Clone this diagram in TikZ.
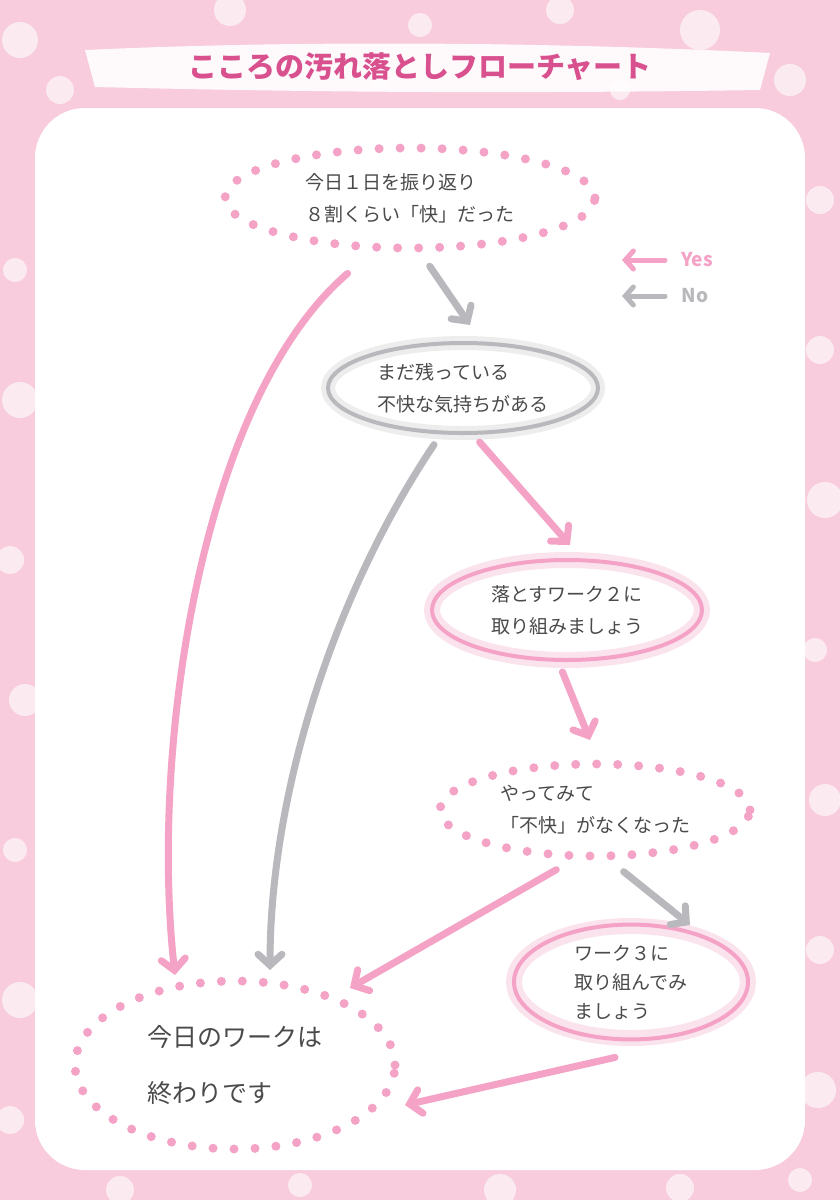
\documentclass[tikz,border=0pt]{standalone}
\usepackage{fontspec}
\setmainfont{Noto Sans CJK JP}
\usetikzlibrary{shapes.geometric,arrows.meta}
\definecolor{bgpink}{HTML}{F8CCDC}
\definecolor{apink}{HTML}{F4A3C6}
\definecolor{agray}{HTML}{B9B9BD}
\definecolor{tpink}{HTML}{D9508F}
\definecolor{txt}{HTML}{4A4A4A}
\tikzset{
  every node/.style={font=\fontsize{19}{32}\selectfont, text=txt, align=left},
  dotel/.style={ellipse, draw=apink, line width=9pt, line cap=round, dash pattern=on 0pt off 21pt},
  glowp/.style={ellipse, draw=apink, line width=4pt},
  glowg/.style={ellipse, draw=agray, line width=4pt},
  arr/.style={line width=7pt, line cap=round, -{Straight Barb[length=11pt,width=24pt,line cap=round]}},
  yes/.style={arr, draw=apink},
  no/.style={arr, draw=agray},
}
\begin{document}
\begin{tikzpicture}[x=1pt,y=-1pt]
\useasboundingbox (0,0) rectangle (840,1200);
\fill[bgpink] (0,0) rectangle (840,1200);
\foreach \x/\y/\r in {20/40/18,60/90/14,230/10/16,420/25/12,560/10/14,700/30/20,790/80/16,820/200/14,15/270/12,20/400/18,10/560/14,25/700/16,15/850/12,20/1000/18,10/1120/14,820/350/14,825/500/18,815/650/12,825/800/16,820/950/14,818/1090/18,120/1190/14,300/1185/12,500/1190/16,680/1188/14,800/1180/12,380/80/8,620/90/10}
  \fill[white,opacity=.6] (\x,\y) circle (\r);
% title brush
\fill[white,opacity=.9] (85,50) .. controls (300,40) and (550,42) .. (770,53) -- (760,90) .. controls (500,94) and (300,92) .. (95,87) -- cycle;
\node (title) at (420,67) {\fontsize{29}{32}\selectfont\bfseries\color{tpink}こころの汚れ落としフローチャート};
% panel
\fill[white] (35,108) [rounded corners=50pt] rectangle (805,1170);
% nodes
\node[dotel, minimum width=370pt, minimum height=100pt] (n1) at (410,198) {今日１日を振り返り\\ ８割くらい「快」だった};
\draw[agray,opacity=.25,line width=14pt] (463,388) ellipse (135 and 45);
\node[glowg, minimum width=270pt, minimum height=90pt] (n2) at (463,388) {まだ残っている\\不快な気持ちがある};
\draw[apink,opacity=.3,line width=16pt] (567,610) ellipse (135 and 50);
\node[glowp, minimum width=270pt, minimum height=100pt] (n3) at (567,610) {落とすワーク２に\\取り組みましょう};
\node[dotel, minimum width=310pt, minimum height=92pt] (n4) at (595,810) {やってみて\\「不快」がなくなった};
\draw[apink,opacity=.3,line width=16pt] (631,982) ellipse (117 and 56);
\node[glowp, minimum width=234pt, minimum height=112pt, font=\fontsize{19}{29}\selectfont] (n5) at (631,982) {ワーク３に\\取り組んでみ\\ましょう};
\node[dotel, minimum width=320pt, minimum height=168pt, font=\fontsize{25}{56}\selectfont] (n6) at (235,1065) {今日のワークは\\終わりです};
% connectors
\draw[yes] (n1.235) ++(-25,22) .. controls (200,400) and (150,750) .. (175,975);
\draw[no] (n1.290) ++(0,14) -- (470,325);
\draw[no] (n2.250) ++(-12,10) .. controls (330,600) and (270,800) .. (270,970);
\draw[yes] (n2.300) ++(-10,8) -- (570,545);
\draw[yes] (n3.265) ++(0,10) -- (590,740);
\draw[yes] (n4.240) ++(-10,10) -- (350,988);
\draw[no] (n4.300) ++(0,12) -- (690,925);
\draw[yes] (n5.270) ++(-16,16) -- (405,1105);
% legend
\coordinate (ly1) at (665,260); \coordinate (ly2) at (622,260);
\coordinate (ln1) at (665,296); \coordinate (ln2) at (622,296);
\draw[yes, line width=5pt, -{Straight Barb[length=8pt,width=18pt,line cap=round]}] (ly1) -- (ly2);
\draw[no, line width=5pt, -{Straight Barb[length=8pt,width=18pt,line cap=round]}] (ln1) -- (ln2);
\node[anchor=west, font=\fontsize{19}{22}\selectfont\bfseries, text=apink] (yl) at (678,260) {Yes};
\node[anchor=west, font=\fontsize{19}{22}\selectfont\bfseries, text=agray] (nl) at (678,296) {No};
\end{tikzpicture}
\end{document}
